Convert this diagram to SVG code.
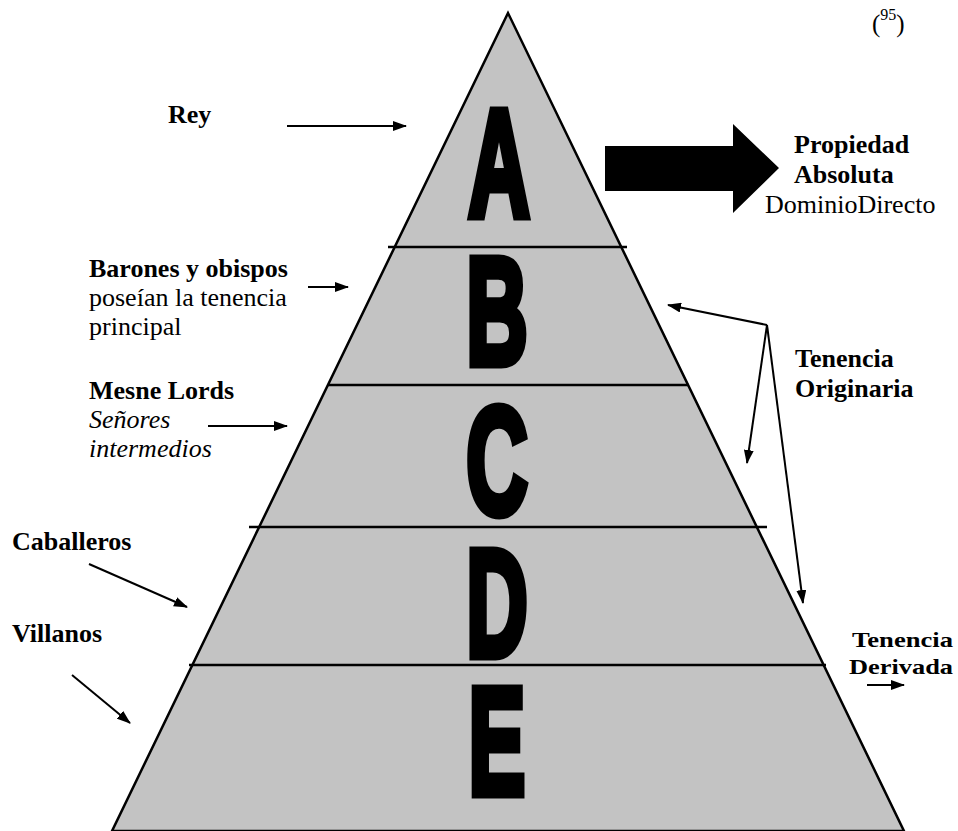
<svg xmlns="http://www.w3.org/2000/svg" width="958" height="831" viewBox="0 0 958 831">
<style>
.b,.r,.i{font-family:'Liberation Serif','Times New Roman',Times,serif;font-size:26px;fill:#000}
.b{font-weight:bold}
.i{font-style:italic}
.big{font-family:'Liberation Sans',Arial,sans-serif;font-weight:bold;font-size:152px;fill:#000;stroke:#000;stroke-width:9;stroke-linejoin:miter;text-anchor:middle}
.ln{stroke:#000;stroke-width:2.5;fill:none}
.ar{stroke:#000;stroke-width:2;fill:none;marker-end:url(#ah)}
</style>
<defs>
<marker id="ah" markerUnits="userSpaceOnUse" markerWidth="14" markerHeight="10" refX="13" refY="5" orient="auto">
<path d="M0,0 L14,5 L0,10 z" fill="#000"/>
</marker>
</defs>
<rect width="958" height="831" fill="#fff"/>
<g id="pyramid">
<polygon points="508,13 112,831 904,831" fill="#c3c3c3" stroke="#000" stroke-width="2.5"/>
<line class="ln" x1="388" y1="247" x2="627" y2="247"/>
<line class="ln" x1="328" y1="385" x2="689" y2="385"/>
<line class="ln" x1="249" y1="527" x2="767" y2="527"/>
<line class="ln" x1="189" y1="665" x2="826" y2="665"/>
</g>
<g id="level-A"><text class="big" transform="translate(499,216) scale(0.56,1)">A</text></g>
<g id="level-B"><text class="big" transform="translate(497,364) scale(0.56,1)">B</text></g>
<g id="level-C"><text class="big" transform="translate(497,514) scale(0.56,1)">C</text></g>
<g id="level-D"><text class="big" transform="translate(497,656) scale(0.56,1)">D</text></g>
<g id="level-E"><text class="big" transform="translate(497,794) scale(0.56,1)">E</text></g>
<g id="note"><text class="r" x="872" y="32" style="font-size:25px">(<tspan style="font-size:16px" dy="-12">95</tspan><tspan dy="12">)</tspan></text></g>
<g id="rey"><text class="b" x="168" y="123">Rey</text></g>
<g id="barones"><text class="b" x="89" y="277">Barones y obispos</text><text class="r" x="89" y="306">poseían la tenencia</text><text class="r" x="89" y="335">principal</text></g>
<g id="mesne"><text class="b" x="89" y="399">Mesne Lords</text><text class="i" x="89" y="428">Señores</text><text class="i" x="89" y="457">intermedios</text></g>
<g id="caballeros"><text class="b" x="12" y="550">Caballeros</text></g>
<g id="villanos"><text class="b" x="12" y="642">Villanos</text></g>
<g id="propiedad"><text class="b" x="794" y="153">Propiedad</text><text class="b" x="794" y="183">Absoluta</text><text class="r" x="765" y="213">DominioDirecto</text></g>
<g id="originaria"><text class="b" x="795" y="367">Tenencia</text><text class="b" x="795" y="397">Originaria</text></g>
<g id="derivada"><text class="b" x="852" y="647" style="font-size:21px" textLength="101" lengthAdjust="spacingAndGlyphs">Tenencia</text><text class="b" x="849" y="674" style="font-size:21px" textLength="104" lengthAdjust="spacingAndGlyphs">Derivada</text></g>
<g id="connectors">
<line class="ar" x1="287" y1="126" x2="406" y2="126"/>
<polygon points="605,146 733,146 733,124 779,168 733,213 733,191 605,191" fill="#000"/>
<line class="ar" x1="308" y1="287" x2="348" y2="287"/>
<line class="ar" x1="208" y1="426" x2="287" y2="426"/>
<line class="ar" x1="89" y1="564" x2="187" y2="607"/>
<line class="ar" x1="72" y1="675" x2="130" y2="723"/>
<line class="ar" x1="767" y1="325" x2="668" y2="305"/>
<line class="ar" x1="767" y1="325" x2="747" y2="463"/>
<line class="ar" x1="767" y1="325" x2="803" y2="603"/>
<line class="ar" x1="867" y1="685" x2="904" y2="685"/>
</g>
</svg>
